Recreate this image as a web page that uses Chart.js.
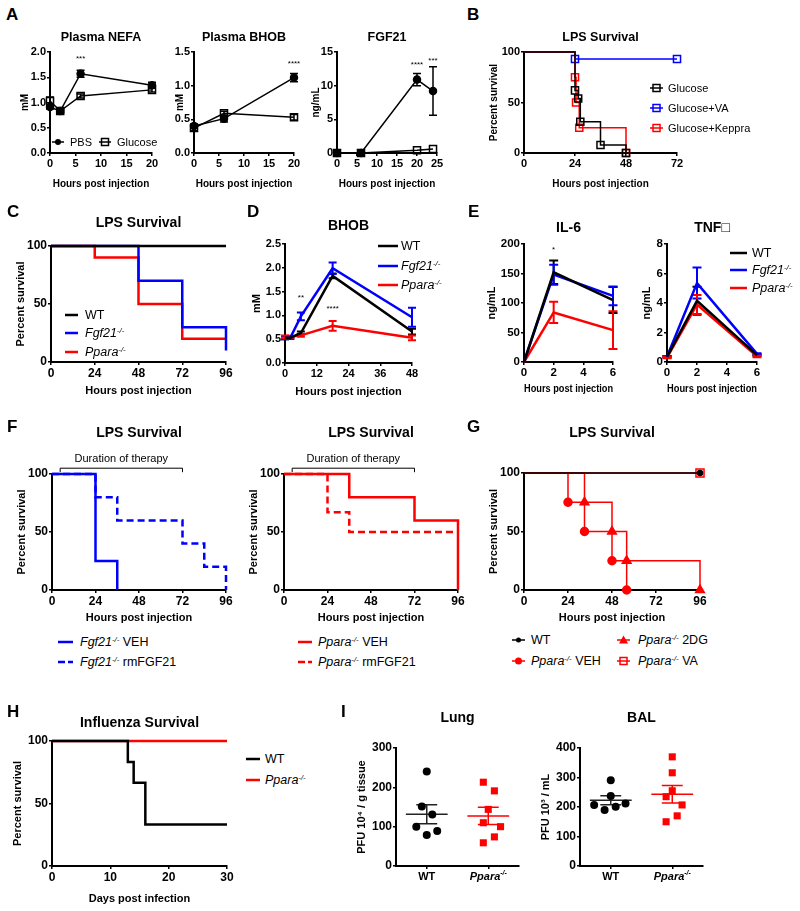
<!DOCTYPE html>
<html><head><meta charset="utf-8">
<script src="https://cdn.jsdelivr.net/npm/chart.js@4.4.1/dist/chart.umd.min.js"></script>
<style>
html,body{margin:0;padding:0;background:#fff}
body{position:relative;width:800px;height:911px;overflow:hidden;font-family:'Liberation Sans',Arial,Helvetica,sans-serif;color:#000}
canvas{position:absolute}
.lt{position:absolute;font-weight:bold;font-size:17px;line-height:17px}
.lg{position:absolute;display:flex;align-items:center;height:16px;white-space:nowrap;line-height:1}
.lg svg{flex:none;overflow:visible}
.sp{font-size:0.62em;position:relative;top:-0.5em;font-style:italic}
</style></head><body>
<script>
const FONT = "'Liberation Sans', Arial, Helvetica, sans-serif";
const K = '#000000', BL = '#0000ff', RD = '#ff0000';

// ---------- A: metabolites after PBS / glucose ----------
const nefaHours = [0, 2, 6, 20];
const nefaPBS = [0.91, 0.83, 1.57, 1.34];
const nefaPBSErr = [0.04, 0.03, 0.07, 0.06];
const nefaGlucose = [1.03, 0.83, 1.13, 1.25];
const nefaGlucoseErr = [0.08, 0.03, 0.04, 0.04];

const bhobHours = [0, 6, 20];
const bhobPBS = [0.40, 0.51, 1.12];
const bhobPBSErr = [0.03, 0.05, 0.06];
const bhobGlucose = [0.37, 0.59, 0.53];
const bhobGlucoseErr = [0.04, 0.03, 0.04];

const fgfHours = [0, 6, 20, 24];
const fgfPBS = [0, 0, 10.9, 9.2];
const fgfPBSErr = [0, 0, 0.9, 3.6];
const fgfGlucose = [0, 0, 0.4, 0.6];

// ---------- B: LPS survival, glucose groups ----------
const bGlucoseT = [0, 24, 25.5, 26.5, 36, 48];
const bGlucoseS = [100, 62, 54, 31, 8, 0];
const bVAT = [0, 24, 72];
const bVAS = [100, 93, 93];
const bKeppraT = [0, 24, 24.5, 26, 48];
const bKeppraS = [100, 75, 50, 25, 0];

// ---------- C: LPS survival by genotype ----------
const cWTT = [0, 96];
const cWTS = [100, 100];
const cFgfT = [0, 48, 72, 96];
const cFgfS = [100, 70, 30, 10];
const cPparaT = [0, 24, 48, 72, 96];
const cPparaS = [100, 90, 50, 20, 20];

// ---------- D: BHOB ----------
const dHours = [0, 2, 6, 18, 48];
const dWT = [0.53, 0.53, 0.63, 1.83, 0.66];
const dWTErr = [0.03, 0.02, 0.03, 0.05, 0.06];
const dFgf = [0.53, 0.53, 0.98, 1.99, 0.96];
const dFgfErr = [0.03, 0.02, 0.08, 0.12, 0.2];
const dPpara = [0.55, 0.55, 0.58, 0.78, 0.53];
const dPparaErr = [0.03, 0.02, 0.03, 0.1, 0.05];

// ---------- E: cytokines ----------
const eHours = [0, 2, 6];
const il6WT = [0, 152, 105];
const il6WTErr = [0, 20, 22];
const il6Fgf = [0, 148, 112];
const il6FgfErr = [0, 17, 16];
const il6Ppara = [0, 84, 54];
const il6PparaErr = [0, 18, 32];
const tnfWT = [0.35, 4.15, 0.47];
const tnfWTErr = [0.05, 0.95, 0.05];
const tnfFgf = [0.35, 5.35, 0.55];
const tnfFgfErr = [0.05, 1.05, 0.05];
const tnfPpara = [0.3, 3.9, 0.38];
const tnfPparaErr = [0.05, 0.65, 0.05];

// ---------- F: rmFGF21 therapy ----------
const fFgfVehT = [0, 24, 36];
const fFgfVehS = [100, 25, 0];
const fFgfRmT = [0, 24, 36, 72, 84, 96];
const fFgfRmS = [100, 80, 60, 40, 20, 0];
const fPparaVehT = [0, 36, 72, 96];
const fPparaVehS = [100, 80, 60, 0];
const fPparaRmT = [0, 24, 36, 96];
const fPparaRmS = [100, 67, 50, 50];

// ---------- G: 2DG / VA ----------
const gWTT = [0, 96];
const gWTS = [100, 100];
const gVehT = [0, 24, 33, 48, 56];
const gVehS = [100, 75, 50, 25, 0];
const g2dgT = [0, 33, 48, 56, 96];
const g2dgS = [100, 75, 50, 25, 0];
const gVAT = [0, 96];
const gVAS = [100, 100];

// ---------- H: influenza survival ----------
const hWTT = [0, 13, 14, 16, 30];
const hWTS = [100, 83.3, 66.7, 33.3, 33.3];
const hPparaT = [0, 30];
const hPparaS = [100, 100];

// ---------- I: viral titres ----------
const iCategories = ['WT', 'Ppara'];
const lungWT = [240, 151, 131, 100, 79, 89];
const lungPpara = [213, 191, 144, 110, 100, 74, 59];
const balWT = [291, 237, 207, 190, 201, 212];
const balPpara = [370, 316, 255, 235, 207, 170, 150];
const lungWTJitter = [0, -0.08, 0.09, -0.17, 0, 0.17];
const lungPparaJitter = [-0.08, 0.1, 0, -0.08, 0.2, 0.1, -0.08];
const balWTJitter = [0, 0, -0.27, -0.1, 0.08, 0.24];
const balPparaJitter = [0, 0, 0, -0.1, 0.16, 0.08, -0.1];

// ================= helpers =================
function pts(xs, ys) { return xs.map((x, i) => ({ x: x, y: ys[i] })); }
function lineDS(xs, ys, color, lw, extra) {
  return Object.assign({ data: pts(xs, ys), borderColor: color, backgroundColor: color, borderWidth: lw,
    pointRadius: 0, pointBorderWidth: 1.5, tension: 0, clip: false, fill: false }, extra || {});
}
function kmDS(ts, ss, color, lw, extra) { return lineDS(ts, ss, color, lw, Object.assign({ stepped: 'before' }, extra || {})); }
const skipFirst = r => (c => c.dataIndex === 0 ? 0 : r);
const lastOnly = r => (c => c.dataIndex === c.dataset.data.length - 1 ? r : 0);
const CLEAR = 'rgba(255,255,255,0)';

function richDraw(ctx, parts, x, y, size, align) {
  let w = 0;
  const fonts = parts.map(p => {
    const s = p.sup ? size * 0.62 : size;
    const f = (p.it ? 'italic ' : '') + 'bold ' + s + 'px ' + FONT;
    ctx.font = f; const m = ctx.measureText(p.t).width; w += m; return { f, m, s };
  });
  let cx = align === 'center' ? x - w / 2 : x;
  ctx.textAlign = 'left'; ctx.textBaseline = 'middle';
  parts.forEach((p, i) => {
    ctx.font = fonts[i].f;
    ctx.fillText(p.t, cx, p.sup ? y - size * 0.38 : y);
    cx += fonts[i].m;
  });
}

const deco = {
  id: 'deco',
  beforeDatasetsDraw(chart) {
    const o = chart.canvas._deco, ctx = chart.ctx, xs = chart.scales.x, ys = chart.scales.y;
    chart.data.datasets.forEach(ds => {
      if (!ds.errors) return;
      ctx.save(); ctx.strokeStyle = ds.borderColor; ctx.lineWidth = ds.errWidth || 1.5;
      const cap = ds.cap || 4;
      ds.data.forEach((p, i) => {
        const e = ds.errors[i]; if (!e) return;
        const x = xs.getPixelForValue(p.x), a = ys.getPixelForValue(p.y + e), b = ys.getPixelForValue(p.y - e);
        ctx.beginPath(); ctx.moveTo(x, a); ctx.lineTo(x, b);
        ctx.moveTo(x - cap, a); ctx.lineTo(x + cap, a); ctx.moveTo(x - cap, b); ctx.lineTo(x + cap, b);
        ctx.stroke();
      });
      ctx.restore();
    });
    (o.groups || []).forEach(g => {
      const n = g.vals.length, mean = g.vals.reduce((s, v) => s + v, 0) / n;
      const sd = Math.sqrt(g.vals.reduce((s, v) => s + (v - mean) * (v - mean), 0) / (n - 1));
      const sem = sd / Math.sqrt(n);
      const xc = g.x;
      ctx.save(); ctx.strokeStyle = g.color; ctx.lineWidth = 1.5; ctx.beginPath();
      const ym = ys.getPixelForValue(mean), yu = ys.getPixelForValue(mean + sem), yl = ys.getPixelForValue(mean - sem);
      ctx.moveTo(xs.getPixelForValue(xc - 0.34), ym); ctx.lineTo(xs.getPixelForValue(xc + 0.34), ym);
      ctx.moveTo(xs.getPixelForValue(xc), yu); ctx.lineTo(xs.getPixelForValue(xc), yl);
      ctx.moveTo(xs.getPixelForValue(xc - 0.17), yu); ctx.lineTo(xs.getPixelForValue(xc + 0.17), yu);
      ctx.moveTo(xs.getPixelForValue(xc - 0.17), yl); ctx.lineTo(xs.getPixelForValue(xc + 0.17), yl);
      ctx.stroke(); ctx.restore();
    });
  },
  afterDraw(chart) {
    const o = chart.canvas._deco, ctx = chart.ctx, xs = chart.scales.x, ys = chart.scales.y, ca = chart.chartArea;
    ctx.save(); ctx.fillStyle = '#000';
    if (o.title) {
      ctx.font = 'bold ' + o.titleFs + 'px ' + FONT; ctx.textAlign = 'center'; ctx.textBaseline = 'middle';
      ctx.fillText(o.title, (ca.left + ca.right) / 2, o.titleY - o.top);
    }
    (o.notes || []).forEach(n => {
      ctx.font = '8px ' + FONT; ctx.textAlign = 'center'; ctx.textBaseline = 'middle';
      ctx.fillText(n.t, xs.getPixelForValue(n.x), ys.getPixelForValue(n.y));
    });
    if (o.bracket) {
      const b = o.bracket, xa = xs.getPixelForValue(b.from), xb = xs.getPixelForValue(b.to), y = ys.getPixelForValue(b.y);
      ctx.strokeStyle = '#000'; ctx.lineWidth = 1; ctx.beginPath();
      ctx.moveTo(xa, y + 4); ctx.lineTo(xa, y); ctx.lineTo(xb, y); ctx.lineTo(xb, y + 4); ctx.stroke();
      ctx.font = '11px ' + FONT; ctx.textAlign = 'center'; ctx.textBaseline = 'middle';
      ctx.fillText(b.label, (xa + xb) / 2, ys.getPixelForValue(b.ly));
    }
    (o.cats || []).forEach(c => {
      richDraw(ctx, c.parts, xs.getPixelForValue(c.x), ca.bottom + 11, 11, 'center');
    });
    ctx.restore();
  }
};

function makePanel(o) {
  const axFs = o.axFs, left = Math.round(o.ytX - 0.6 * axFs);
  const top = o.top, padR = (o.padR == null ? 12 : o.padR), padB = 2;
  const Hx = Math.round(o.xtY + 0.6 * axFs - o.yB);
  const W = o.x1 + padR - left, H = o.yB + Hx + padB - top;
  const cv = document.createElement('canvas');
  cv.width = W; cv.height = H;
  cv.style.left = left + 'px'; cv.style.top = top + 'px'; cv.style.width = W + 'px'; cv.style.height = H + 'px';
  document.body.appendChild(cv);
  cv._deco = o;
  const tickFont = { family: FONT, size: o.tickFs, weight: 'bold' };
  const axFont = { family: FONT, size: axFs, weight: 'bold' };
  const grid = () => ({ drawOnChartArea: false, drawTicks: true, tickLength: 3, color: '#000', lineWidth: 1.5 });
  const border = () => ({ display: true, color: '#000', width: 2 });
  new Chart(cv, {
    type: 'line',
    data: { datasets: o.datasets },
    options: {
      responsive: false, animation: false, devicePixelRatio: 1, events: [],
      layout: { padding: { left: 0, right: padR, top: o.yT - top, bottom: padB } },
      plugins: { legend: { display: false }, tooltip: { enabled: false }, title: { display: false } },
      scales: {
        x: {
          type: 'linear', min: o.xMin, max: o.xMax, grid: grid(), border: border(),
          afterBuildTicks: s => { s.ticks = o.xTicks.map(v => ({ value: v })); },
          ticks: { font: tickFont, color: '#000', padding: 1, maxRotation: 0, autoSkip: false,
            callback: v => (o.cats ? '' : String(v)) },
          title: { display: !!o.xt, text: o.xt || '', font: axFont, color: '#000', padding: 0 },
          afterFit: s => { s.height = Hx; }
        },
        y: {
          type: 'linear', min: o.yMin, max: o.yMax, grid: grid(), border: border(),
          afterBuildTicks: s => { s.ticks = o.yTicks.map(v => ({ value: v })); },
          ticks: { font: tickFont, color: '#000', padding: 1, callback: v => Number(v).toFixed(o.yDec || 0) },
          title: { display: true, text: o.yt, font: axFont, color: '#000', padding: 0 },
          afterFit: s => { s.width = o.x0 - left; }
        }
      }
    },
    plugins: [deco]
  });
}

function letter(t, x, y) {
  const d = document.createElement('div'); d.className = 'lt'; d.textContent = t;
  d.style.left = x + 'px'; d.style.top = y + 'px'; document.body.appendChild(d);
}
function legend(it) {
  const d = document.createElement('div'); d.className = 'lg';
  d.style.left = it.x + 'px'; d.style.top = (it.cy - 8) + 'px'; d.style.fontSize = (it.fs || 12.5) + 'px';
  const w = it.w, m = w / 2;
  let s = '<svg width="' + w + '" height="16">';
  s += '<line x1="0" y1="8" x2="' + w + '" y2="8" stroke="' + it.c + '" stroke-width="' + (it.lw || 2.5) + '"' +
       (it.dash ? ' stroke-dasharray="' + it.dash + '"' : '') + '/>';
  if (it.m === 'circle') s += '<circle cx="' + m + '" cy="8" r="' + (it.r || 3.5) + '" fill="' + it.c + '"/>';
  if (it.m === 'rect') s += '<rect x="' + (m - 3.5) + '" y="4.5" width="7" height="7" fill="none" stroke="' + it.c + '" stroke-width="1.5"/>';
  if (it.m === 'tri') s += '<polygon points="' + m + ',3.5 ' + (m + 4.5) + ',11.5 ' + (m - 4.5) + ',11.5" fill="' + it.c + '"/>';
  s += '</svg>';
  d.innerHTML = s + '<span style="margin-left:' + (it.tx - it.x - w) + 'px">' + it.html + '</span>';
  document.body.appendChild(d);
}
const SUP = '<span class="sp">-/-</span>';
const FGF = '<i>Fgf21</i>' + SUP, PPA = '<i>Ppara</i>' + SUP;

// ================= panels =================
// A
makePanel({ x0: 50, x1: 152, yT: 52, yB: 153, top: 26, ytX: 25, axFs: 10, yt: 'mM', xtY: 184, xt: 'Hours post injection', tickFs: 11,
  xMin: 0, xMax: 20, xTicks: [0, 5, 10, 15, 20], yMin: 0, yMax: 2, yTicks: [0, 0.5, 1, 1.5, 2], yDec: 1,
  title: 'Plasma NEFA', titleFs: 12.5, titleY: 38, notes: [{ x: 6, y: 1.87, t: '***' }],
  datasets: [
    lineDS(nefaHours, nefaPBS, K, 1.5, { errors: nefaPBSErr, pointRadius: 3.5, pointStyle: 'circle', pointBackgroundColor: K, pointBorderColor: K }),
    lineDS(nefaHours, nefaGlucose, K, 1.5, { errors: nefaGlucoseErr, pointRadius: 5, pointStyle: 'rect', pointBackgroundColor: CLEAR, pointBorderColor: K })
  ] });
makePanel({ x0: 194, x1: 294, yT: 52, yB: 153, top: 26, ytX: 180, axFs: 10, yt: 'mM', xtY: 184, xt: 'Hours post injection', tickFs: 11,
  xMin: 0, xMax: 20, xTicks: [0, 5, 10, 15, 20], yMin: 0, yMax: 1.5, yTicks: [0, 0.5, 1, 1.5], yDec: 1,
  title: 'Plasma BHOB', titleFs: 12.5, titleY: 38, notes: [{ x: 20, y: 1.32, t: '****' }],
  datasets: [
    lineDS(bhobHours, bhobPBS, K, 1.5, { errors: bhobPBSErr, pointRadius: 3.5, pointStyle: 'circle', pointBackgroundColor: K, pointBorderColor: K }),
    lineDS(bhobHours, bhobGlucose, K, 1.5, { errors: bhobGlucoseErr, pointRadius: 5, pointStyle: 'rect', pointBackgroundColor: CLEAR, pointBorderColor: K })
  ] });
makePanel({ x0: 337, x1: 437, yT: 52, yB: 153, top: 26, ytX: 316, axFs: 10, yt: 'ng/mL', xtY: 184, xt: 'Hours post injection', tickFs: 11,
  xMin: 0, xMax: 25, xTicks: [0, 5, 10, 15, 20, 25], yMin: 0, yMax: 15, yTicks: [0, 5, 10, 15], yDec: 0,
  title: 'FGF21', titleFs: 12.5, titleY: 38, notes: [{ x: 20, y: 13.1, t: '****' }, { x: 24, y: 13.7, t: '***' }],
  datasets: [
    lineDS(fgfHours, fgfPBS, K, 1.5, { errors: fgfPBSErr, pointRadius: 3.5, pointStyle: 'circle', pointBackgroundColor: K, pointBorderColor: K }),
    lineDS(fgfHours, fgfGlucose, K, 1.5, { pointRadius: 5, pointStyle: 'rect', pointBackgroundColor: CLEAR, pointBorderColor: K })
  ] });
// B
makePanel({ x0: 524, x1: 677, yT: 52, yB: 153, top: 26, ytX: 494, axFs: 10, yt: 'Percent survival', xtY: 184, xt: 'Hours post injection', tickFs: 11,
  xMin: 0, xMax: 72, xTicks: [0, 24, 48, 72], yMin: 0, yMax: 100, yTicks: [0, 50, 100],
  title: 'LPS Survival', titleFs: 12.5, titleY: 38,
  datasets: [
    kmDS(bGlucoseT, bGlucoseS, K, 1.5, { pointRadius: skipFirst(5), pointStyle: 'rect', pointBackgroundColor: CLEAR, pointBorderColor: K }),
    kmDS(bKeppraT, bKeppraS, RD, 1.5, { pointRadius: skipFirst(5), pointStyle: 'rect', pointBackgroundColor: CLEAR, pointBorderColor: RD }),
    kmDS(bVAT, bVAS, BL, 1.5, { pointRadius: skipFirst(5), pointStyle: 'rect', pointBackgroundColor: CLEAR, pointBorderColor: BL })
  ] });
// C
makePanel({ x0: 51, x1: 226, yT: 246, yB: 362, top: 210, ytX: 21, axFs: 11, yt: 'Percent survival', xtY: 391, xt: 'Hours post injection', tickFs: 12,
  xMin: 0, xMax: 96, xTicks: [0, 24, 48, 72, 96], yMin: 0, yMax: 100, yTicks: [0, 50, 100],
  title: 'LPS Survival', titleFs: 14, titleY: 223,
  datasets: [kmDS(cWTT, cWTS, K, 2.5), kmDS(cFgfT, cFgfS, BL, 2.5), kmDS(cPparaT, cPparaS, RD, 2.5)] });
// D
makePanel({ x0: 285, x1: 412, yT: 244, yB: 363, top: 212, ytX: 257, axFs: 11, yt: 'mM', xtY: 392, xt: 'Hours post injection', tickFs: 11,
  xMin: 0, xMax: 48, xTicks: [0, 12, 24, 36, 48], yMin: 0, yMax: 2.5, yTicks: [0, 0.5, 1, 1.5, 2, 2.5], yDec: 1,
  title: 'BHOB', titleFs: 14, titleY: 226, notes: [{ x: 6, y: 1.37, t: '**' }, { x: 18, y: 1.13, t: '****' }],
  datasets: [
    lineDS(dHours, dWT, K, 2.5, { errors: dWTErr, errWidth: 2 }),
    lineDS(dHours, dFgf, BL, 2.5, { errors: dFgfErr, errWidth: 2 }),
    lineDS(dHours, dPpara, RD, 2.5, { errors: dPparaErr, errWidth: 2 })
  ] });
// E
makePanel({ x0: 524, x1: 613, yT: 244, yB: 362, top: 212, ytX: 492, axFs: 11, yt: 'ng/mL', xtY: 389, xt: 'Hours post injection', tickFs: 11.5,
  xMin: 0, xMax: 6, xTicks: [0, 2, 4, 6], yMin: 0, yMax: 200, yTicks: [0, 50, 100, 150, 200],
  title: 'IL-6', titleFs: 14, titleY: 228, notes: [{ x: 2, y: 190, t: '*' }],
  datasets: [
    lineDS(eHours, il6WT, K, 2.5, { errors: il6WTErr, errWidth: 2, cap: 4.5 }),
    lineDS(eHours, il6Fgf, BL, 2.5, { errors: il6FgfErr, errWidth: 2, cap: 4.5 }),
    lineDS(eHours, il6Ppara, RD, 2.5, { errors: il6PparaErr, errWidth: 2, cap: 4.5 })
  ] });
makePanel({ x0: 667, x1: 757, yT: 244, yB: 362, top: 212, ytX: 647, axFs: 11, yt: 'ng/mL', xtY: 389, xt: 'Hours post injection', tickFs: 11.5,
  xMin: 0, xMax: 6, xTicks: [0, 2, 4, 6], yMin: 0, yMax: 8, yTicks: [0, 2, 4, 6, 8],
  title: 'TNF\u25A1', titleFs: 14, titleY: 228,
  datasets: [
    lineDS(eHours, tnfWT, K, 2.5, { errors: tnfWTErr, errWidth: 2, cap: 4.5 }),
    lineDS(eHours, tnfFgf, BL, 2.5, { errors: tnfFgfErr, errWidth: 2, cap: 4.5 }),
    lineDS(eHours, tnfPpara, RD, 2.5, { errors: tnfPparaErr, errWidth: 2, cap: 4.5 })
  ] });
// F
makePanel({ x0: 52, x1: 226, yT: 474, yB: 590, top: 420, ytX: 22, axFs: 11, yt: 'Percent survival', xtY: 618, xt: 'Hours post injection', tickFs: 12,
  xMin: 0, xMax: 96, xTicks: [0, 24, 48, 72, 96], yMin: 0, yMax: 100, yTicks: [0, 50, 100],
  title: 'LPS Survival', titleFs: 14, titleY: 433,
  bracket: { from: 4.5, to: 72, y: 105, ly: 113, label: 'Duration of therapy' },
  datasets: [kmDS(fFgfVehT, fFgfVehS, BL, 2.5), kmDS(fFgfRmT, fFgfRmS, BL, 2.5, { borderDash: [7, 4] })] });
makePanel({ x0: 284, x1: 458, yT: 474, yB: 590, top: 420, ytX: 254, axFs: 11, yt: 'Percent survival', xtY: 618, xt: 'Hours post injection', tickFs: 12,
  xMin: 0, xMax: 96, xTicks: [0, 24, 48, 72, 96], yMin: 0, yMax: 100, yTicks: [0, 50, 100],
  title: 'LPS Survival', titleFs: 14, titleY: 433,
  bracket: { from: 4.5, to: 72, y: 105, ly: 113, label: 'Duration of therapy' },
  datasets: [kmDS(fPparaVehT, fPparaVehS, RD, 2.5), kmDS(fPparaRmT, fPparaRmS, RD, 2.5, { borderDash: [7, 4] })] });
// G
makePanel({ x0: 524, x1: 700, yT: 473, yB: 590, top: 420, ytX: 494, axFs: 11, yt: 'Percent survival', xtY: 618, xt: 'Hours post injection', tickFs: 12,
  xMin: 0, xMax: 96, xTicks: [0, 24, 48, 72, 96], yMin: 0, yMax: 100, yTicks: [0, 50, 100],
  title: 'LPS Survival', titleFs: 14, titleY: 433,
  datasets: [
    kmDS(gWTT, gWTS, K, 1.5, { pointRadius: lastOnly(2.5), pointStyle: 'circle', pointBackgroundColor: K, pointBorderColor: K }),
    kmDS(gVAT, gVAS, RD, 1.5, { pointRadius: lastOnly(5.7), pointStyle: 'rect', pointBackgroundColor: CLEAR, pointBorderColor: RD }),
    kmDS(g2dgT, g2dgS, RD, 1.5, { pointRadius: skipFirst(5), pointStyle: 'triangle', pointBackgroundColor: RD, pointBorderColor: RD }),
    kmDS(gVehT, gVehS, RD, 1.5, { pointRadius: skipFirst(4), pointStyle: 'circle', pointBackgroundColor: RD, pointBorderColor: RD })
  ] });
// H
makePanel({ x0: 52, x1: 227, yT: 741, yB: 866, top: 706, ytX: 18, axFs: 11, yt: 'Percent survival', xtY: 899, xt: 'Days post infection', tickFs: 12,
  xMin: 0, xMax: 30, xTicks: [0, 10, 20, 30], yMin: 0, yMax: 100, yTicks: [0, 50, 100],
  title: 'Influenza Survival', titleFs: 14, titleY: 723,
  datasets: [kmDS(hWTT, hWTS, K, 2.5), kmDS(hPparaT, hPparaS, RD, 2.5)] });
// I
const catParts = [[{ t: iCategories[0] }], [{ t: iCategories[1], it: true }, { t: '-/-', it: true, sup: true }]];
function scatterDS(vals, jitter, xc, style) {
  return Object.assign({ data: vals.map((v, i) => ({ x: xc + jitter[i], y: v })), showLine: false, clip: false, borderWidth: 0 }, style);
}
makePanel({ x0: 396, x1: 519, yT: 748, yB: 866, top: 705, ytX: 362, axFs: 11, yt: 'PFU 10\u2074 / g tissue', xtY: 885, xt: '', tickFs: 12,
  xMin: -0.5, xMax: 1.5, xTicks: [0, 1], yMin: 0, yMax: 300, yTicks: [0, 100, 200, 300],
  title: 'Lung', titleFs: 14, titleY: 718,
  cats: [{ x: 0, parts: catParts[0] }, { x: 1, parts: catParts[1] }],
  groups: [{ x: 0, vals: lungWT, color: '#222' }, { x: 1, vals: lungPpara, color: RD }],
  datasets: [
    scatterDS(lungWT, lungWTJitter, 0, { pointStyle: 'circle', pointRadius: 4, pointBackgroundColor: K, pointBorderColor: K, borderColor: K }),
    scatterDS(lungPpara, lungPparaJitter, 1, { pointStyle: 'rect', pointRadius: 5, pointBackgroundColor: RD, pointBorderColor: RD, borderColor: RD })
  ] });
makePanel({ x0: 580, x1: 703, yT: 748, yB: 866, top: 705, ytX: 546, axFs: 11, yt: 'PFU 10\u00B3 / mL', xtY: 885, xt: '', tickFs: 12,
  xMin: -0.5, xMax: 1.5, xTicks: [0, 1], yMin: 0, yMax: 400, yTicks: [0, 100, 200, 300, 400],
  title: 'BAL', titleFs: 14, titleY: 718,
  cats: [{ x: 0, parts: catParts[0] }, { x: 1, parts: catParts[1] }],
  groups: [{ x: 0, vals: balWT, color: '#222' }, { x: 1, vals: balPpara, color: RD }],
  datasets: [
    scatterDS(balWT, balWTJitter, 0, { pointStyle: 'circle', pointRadius: 4, pointBackgroundColor: K, pointBorderColor: K, borderColor: K }),
    scatterDS(balPpara, balPparaJitter, 1, { pointStyle: 'rect', pointRadius: 5, pointBackgroundColor: RD, pointBorderColor: RD, borderColor: RD })
  ] });

// ================= letters =================
[['A', 6, 6], ['B', 467, 6], ['C', 7, 203], ['D', 247, 203], ['E', 468, 203], ['F', 7, 418], ['G', 467, 418], ['H', 7, 703], ['I', 341, 703]]
  .forEach(l => letter(l[0], l[1], l[2]));

// ================= legends =================
[
  { x: 52, cy: 142, w: 12, c: K, lw: 1.5, m: 'circle', r: 3, tx: 70, html: 'PBS', fs: 11 },
  { x: 99, cy: 142, w: 12, c: K, lw: 1.5, m: 'rect', tx: 117, html: 'Glucose', fs: 11 },
  { x: 650, cy: 88, w: 13, c: K, lw: 1.5, m: 'rect', tx: 668, html: 'Glucose', fs: 11 },
  { x: 650, cy: 108, w: 13, c: BL, lw: 1.5, m: 'rect', tx: 668, html: 'Glucose+VA', fs: 11 },
  { x: 650, cy: 128, w: 13, c: RD, lw: 1.5, m: 'rect', tx: 668, html: 'Glucose+Keppra', fs: 11 },
  { x: 65, cy: 315, w: 13, c: K, tx: 85, html: 'WT' },
  { x: 65, cy: 333, w: 13, c: BL, tx: 85, html: FGF },
  { x: 65, cy: 352, w: 13, c: RD, tx: 85, html: PPA },
  { x: 378, cy: 246, w: 20, c: K, tx: 401, html: 'WT' },
  { x: 378, cy: 266, w: 20, c: BL, tx: 401, html: FGF },
  { x: 378, cy: 285, w: 20, c: RD, tx: 401, html: PPA },
  { x: 730, cy: 253, w: 17, c: K, tx: 752, html: 'WT' },
  { x: 730, cy: 270, w: 17, c: BL, tx: 752, html: FGF },
  { x: 730, cy: 288, w: 17, c: RD, tx: 752, html: PPA },
  { x: 58, cy: 642, w: 15, c: BL, tx: 80, html: FGF + ' VEH' },
  { x: 58, cy: 662, w: 15, c: BL, dash: '7,3', tx: 80, html: FGF + ' rmFGF21' },
  { x: 298, cy: 642, w: 14, c: RD, tx: 318, html: PPA + ' VEH' },
  { x: 298, cy: 662, w: 14, c: RD, dash: '7,3', tx: 318, html: PPA + ' rmFGF21' },
  { x: 512, cy: 640, w: 13, c: K, lw: 1.5, m: 'circle', r: 2.5, tx: 531, html: 'WT' },
  { x: 512, cy: 661, w: 13, c: RD, lw: 1.5, m: 'circle', r: 3.5, tx: 531, html: PPA + ' VEH' },
  { x: 617, cy: 640, w: 13, c: RD, lw: 1.5, m: 'tri', tx: 638, html: PPA + ' 2DG' },
  { x: 617, cy: 661, w: 13, c: RD, lw: 1.5, m: 'rect', tx: 638, html: PPA + ' VA' },
  { x: 246, cy: 759, w: 14, c: K, tx: 265, html: 'WT' },
  { x: 246, cy: 780, w: 14, c: RD, tx: 265, html: PPA }
].forEach(legend);
</script>
</body></html>
